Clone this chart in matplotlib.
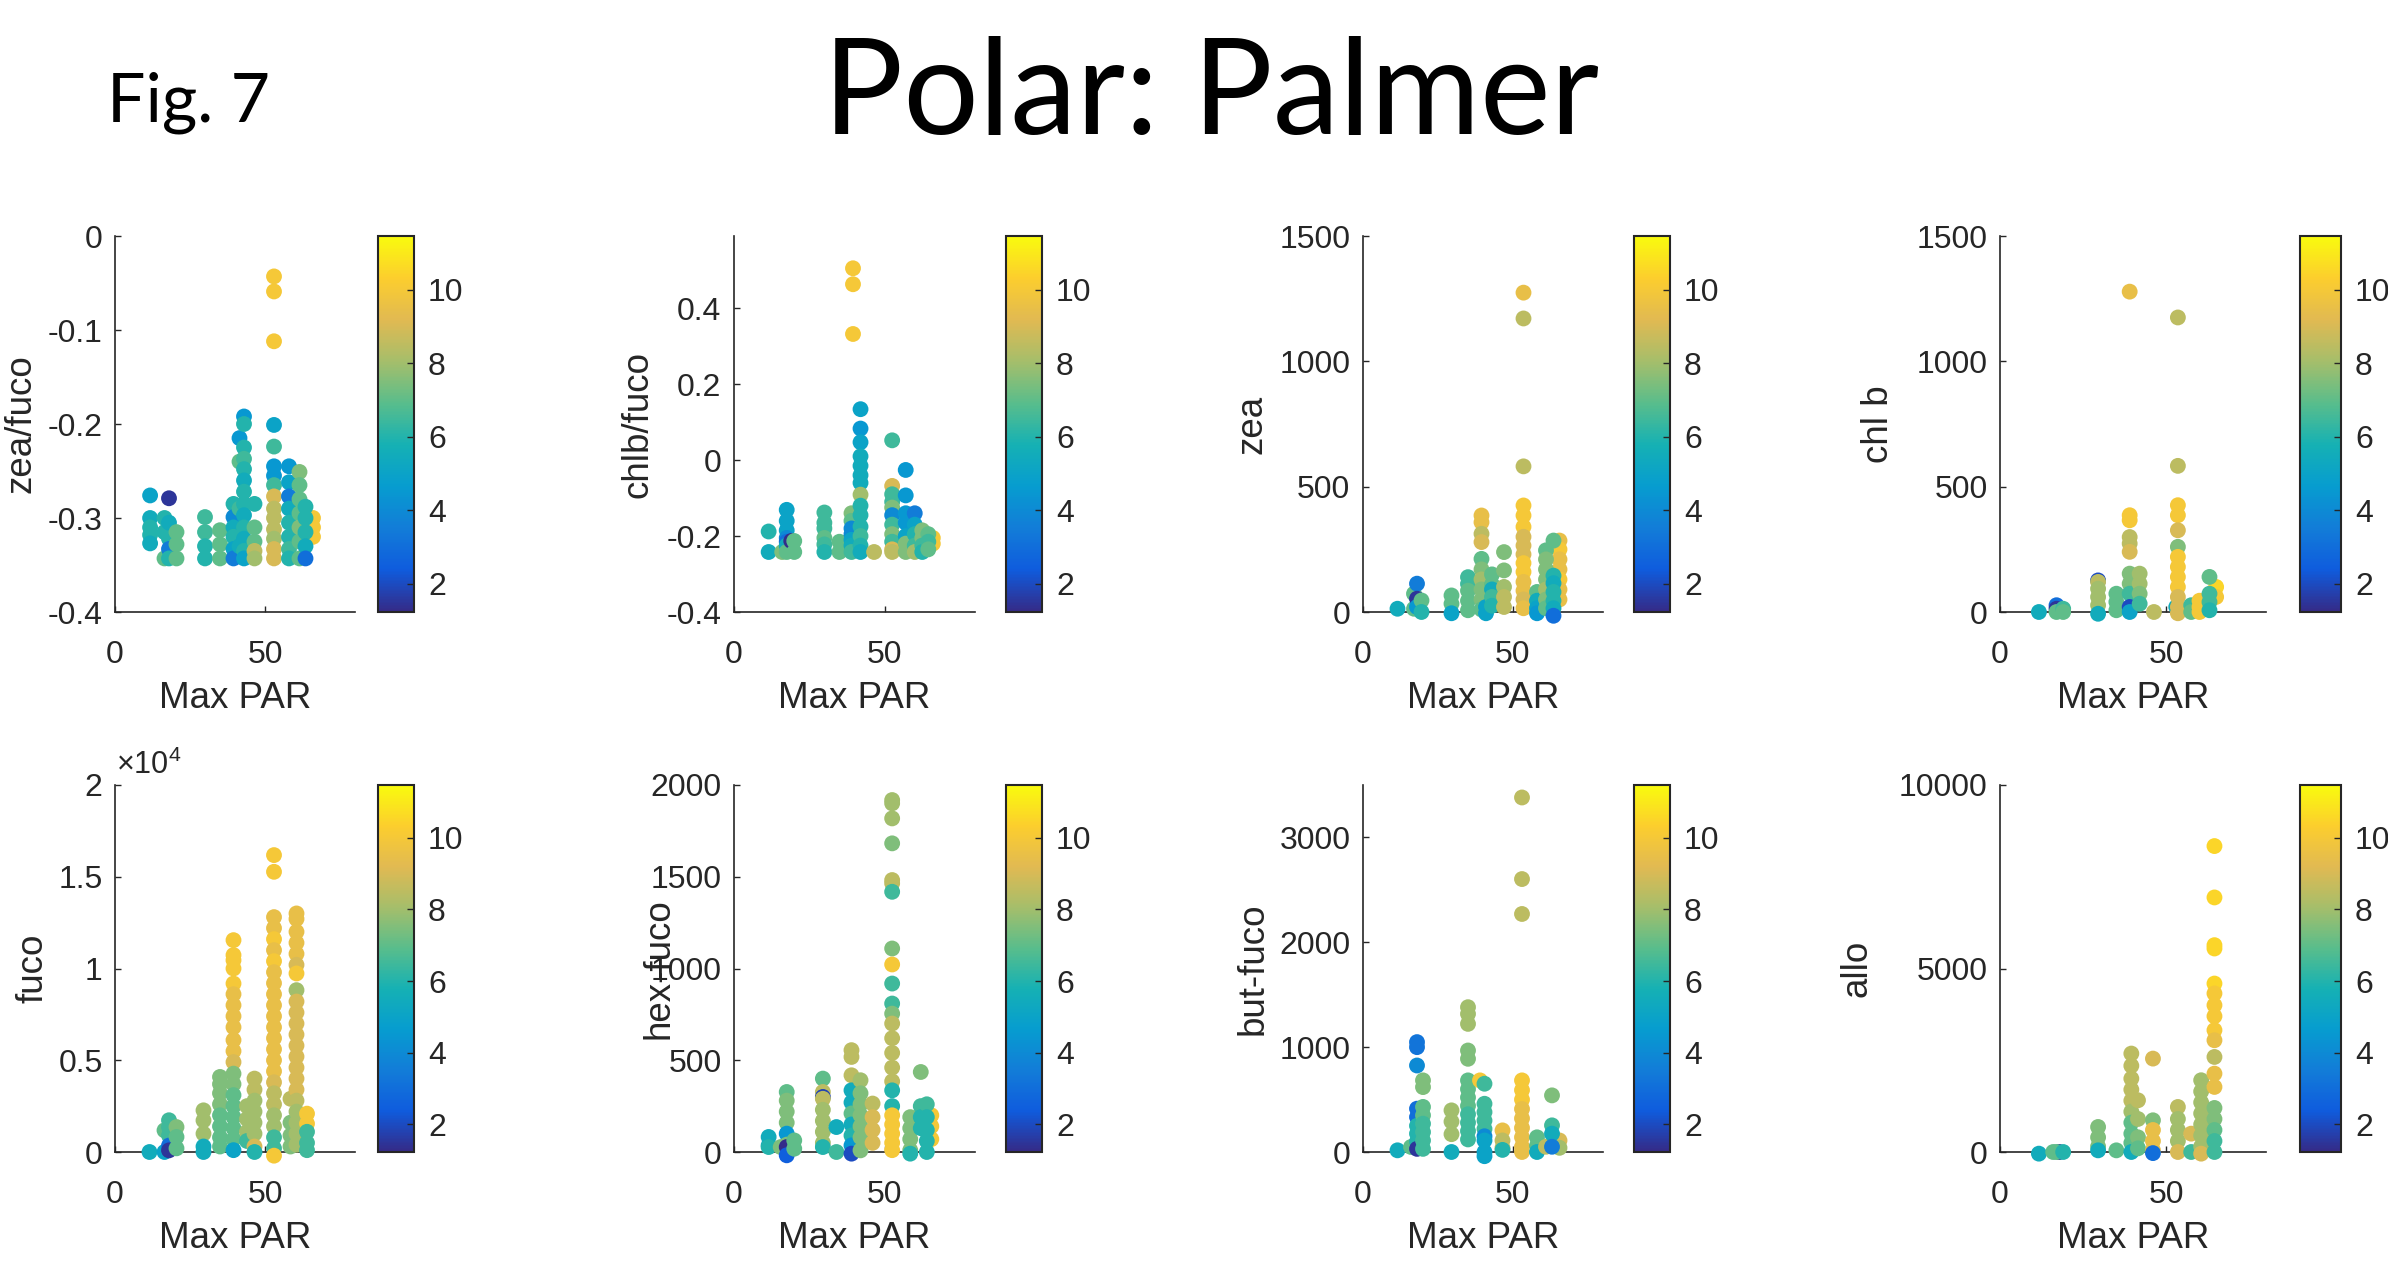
import matplotlib
matplotlib.use("Agg")
import matplotlib.pyplot as plt
from matplotlib.colors import LinearSegmentedColormap, Normalize
from matplotlib.ticker import FuncFormatter

# ---- data: (Max PAR, pigment value, colour value) ----
zea_fuco = [
    (11.7, -0.276, 5), (11.7, -0.300, 5.5), (11.7, -0.310, 6), (11.7, -0.318, 6), (11.7, -0.327, 5.5),
    (16.5, -0.300, 6), (16.5, -0.315, 6), (16.5, -0.343, 7),
    (18, -0.279, 1.5), (18, -0.305, 5.5), (18, -0.322, 6), (18, -0.333, 3.5), (18, -0.343, 6),
    (20.5, -0.315, 7), (20.5, -0.328, 7), (20.5, -0.343, 7),
    (30, -0.299, 6.5), (30, -0.315, 6.5), (30, -0.330, 6), (30, -0.343, 6),
    (35, -0.313, 7), (35, -0.328, 7), (35, -0.343, 7),
    (39.5, -0.285, 6), (39.5, -0.299, 4), (39.5, -0.310, 5.5), (39.5, -0.320, 6), (39.5, -0.333, 5), (39.5, -0.343, 3.5),
    (41.5, -0.215, 4.5), (41.5, -0.240, 7), (41.5, -0.290, 6.5), (41.5, -0.330, 5.5),
    (43, -0.192, 4.5), (43, -0.200, 6), (43, -0.225, 6), (43, -0.237, 6.5), (43, -0.248, 6), (43, -0.260, 5.5),
    (43, -0.272, 6), (43, -0.285, 6), (43, -0.297, 5.5), (43, -0.310, 6), (43, -0.322, 5.5), (43, -0.335, 6), (43, -0.343, 5),
    (46.5, -0.285, 6), (46.5, -0.310, 7), (46.5, -0.325, 7), (46.5, -0.335, 8.5), (46.5, -0.343, 8),
    (53, -0.043, 10), (53, -0.059, 10), (53, -0.112, 10), (53, -0.201, 5), (53, -0.224, 6.5), (53, -0.245, 4.5),
    (53, -0.255, 4.5), (53, -0.265, 6.5), (53, -0.277, 9), (53, -0.290, 8.5), (53, -0.300, 8.5), (53, -0.312, 8.5),
    (53, -0.322, 8), (53, -0.333, 9), (53, -0.343, 9),
    (58, -0.245, 4.5), (58, -0.262, 5), (58, -0.277, 3.5), (58, -0.290, 5.5), (58, -0.305, 6), (58, -0.320, 6),
    (58, -0.333, 6.5), (58, -0.343, 6),
    (66, -0.300, 10), (66, -0.310, 10), (66, -0.320, 10),
    (61.5, -0.251, 7.5), (61.5, -0.265, 7), (61.5, -0.280, 7), (61.5, -0.295, 7), (61.5, -0.310, 7.5), (61.5, -0.325, 7), (61.5, -0.343, 7),
    (63.5, -0.288, 6), (63.5, -0.300, 6), (63.5, -0.315, 6), (63.5, -0.330, 5.5), (63.5, -0.343, 3),
]

chlb_fuco = [
    (11.5, -0.188, 6), (11.5, -0.242, 5.5),
    (16, -0.242, 7.5),
    (17.5, -0.131, 5), (17.5, -0.160, 5), (17.5, -0.185, 5), (17.5, -0.205, 4), (17.5, -0.215, 3), (17.5, -0.225, 5.5), (17.5, -0.242, 7),
    (19, -0.213, 1.3),
    (20, -0.213, 7), (20, -0.242, 7),
    (30, -0.138, 6.5), (30, -0.165, 6.5), (30, -0.180, 6.5), (30, -0.205, 7), (30, -0.222, 6.5), (30, -0.242, 6),
    (35, -0.215, 7), (35, -0.242, 7),
    (39, -0.140, 7.5), (39, -0.160, 7), (39, -0.180, 4), (39, -0.195, 4), (39, -0.210, 5), (39, -0.225, 5.5), (39, -0.242, 6.5),
    (39.5, 0.505, 10), (39.5, 0.463, 10), (39.5, 0.332, 10),
    (42, 0.134, 5), (42, 0.083, 4.5), (42, 0.047, 5), (42, 0.010, 5.5), (42, -0.015, 5.5), (42, -0.040, 5.5),
    (42, -0.060, 5.5), (42, -0.091, 8), (42, -0.120, 6), (42, -0.145, 6), (42, -0.175, 6), (42, -0.200, 6.5),
    (42, -0.225, 6), (42, -0.242, 5.5),
    (46.5, -0.242, 8.5),
    (52.5, 0.052, 6.5), (52.5, -0.068, 9), (52.5, -0.090, 6.5), (52.5, -0.110, 6.5), (52.5, -0.125, 7.5),
    (52.5, -0.145, 4), (52.5, -0.170, 6.5), (52.5, -0.195, 7.5), (52.5, -0.215, 6.5), (52.5, -0.235, 9), (52.5, -0.242, 8.5),
    (57, -0.026, 4.5), (57, -0.093, 4.5), (57, -0.140, 4.5), (57, -0.165, 4.5), (57, -0.200, 5), (57, -0.220, 7.5), (57, -0.242, 7.5),
    (60, -0.140, 3.5), (60, -0.170, 5), (60, -0.195, 6), (60, -0.225, 6.5), (60, -0.242, 8),
    (66, -0.205, 10), (66, -0.220, 10),
    (62.5, -0.185, 7.5), (62.5, -0.205, 7.5), (62.5, -0.225, 6.5), (62.5, -0.242, 6),
    (64.5, -0.195, 7), (64.5, -0.215, 6.5), (64.5, -0.235, 7),
]

zea = [
    (11.5, 13, 5.5),
    (17, 73, 7), (17, 13, 7),
    (18, 113, 3.5), (18, 53, 1.5), (18, 20, 4.5),
    (19.5, 46, 7), (19.5, 0, 6),
    (29.5, 66, 7), (29.5, 33, 7), (29.5, -5, 5),
    (35, 139, 6.5), (35, 112, 6.5), (35, 85, 7), (35, 45, 7), (35, 7, 7),
    (39.5, 385, 9.5), (39.5, 358, 9.5), (39.5, 312, 8.5), (39.5, 279, 9), (39.5, 212, 7), (39.5, 170, 7.5),
    (39.5, 130, 8), (39.5, 90, 7.5), (39.5, 50, 7.5), (39.5, 10, 7),
    (41, -5, 5), (41, 20, 5),
    (43, 150, 7), (43, 110, 7), (43, 90, 5.5), (43, 60, 6.5), (43, 25, 6),
    (47, 239, 7.5), (47, 166, 7.5), (47, 100, 8), (47, 60, 8.5), (47, 20, 8.5),
    (53.5, 1274, 9.5), (53.5, 1171, 8.5), (53.5, 581, 8.5), (53.5, 425, 10), (53.5, 385, 10), (53.5, 340, 10),
    (53.5, 300, 9), (53.5, 265, 9), (53.5, 230, 9), (53.5, 195, 10), (53.5, 160, 10), (53.5, 120, 9.5),
    (53.5, 85, 9.5), (53.5, 50, 9), (53.5, 15, 9.5),
    (58, 80, 7), (58, 45, 5.5), (58, 15, 5), (58, -5, 4.5),
    (65.5, 285, 9.5), (65.5, 250, 10), (65.5, 210, 9.5), (65.5, 170, 9.5), (65.5, 130, 10), (65.5, 90, 9.5), (65.5, 50, 9.5),
    (61, 246, 7), (61, 210, 7.5), (61, 170, 7.5), (61, 130, 7.5), (61, 90, 8), (61, 50, 7.5), (61, 15, 7),
    (63.5, 285, 7), (63.5, 145, 6), (63.5, 115, 5.5), (63.5, 80, 6), (63.5, 45, 6), (63.5, 15, 5.5), (63.5, -15, 3),
]

chl_b = [
    (11.7, 0, 5.5),
    (17, 27, 3), (17, 13, 1.5), (17, 0, 7),
    (19, 13, 6.5), (19, 0, 7),
    (29.5, 126, 2), (29.5, 120, 8.5), (29.5, 93, 8), (29.5, 60, 8), (29.5, 27, 8), (29.5, -7, 5.5),
    (35, 73, 7), (35, 40, 7), (35, 7, 7),
    (39, 1278, 9.5), (39, 386, 10), (39, 366, 10), (39, 299, 8.5), (39, 273, 8.5), (39, 240, 9),
    (39, 153, 7.5), (39, 113, 7.5), (39, 73, 6.5), (39, 20, 2), (39, 0, 5),
    (42, 153, 8), (42, 113, 8), (42, 73, 7.5), (42, 33, 6.5),
    (46.3, 0, 8.5),
    (53, 20, 5.5),
    (53.5, 1175, 8.5), (53.5, 583, 8.5), (53.5, 426, 10), (53.5, 386, 10), (53.5, 326, 9), (53.5, 260, 7.5),
    (53.5, 220, 10), (53.5, 180, 10), (53.5, 140, 10), (53.5, 100, 10), (53.5, 60, 9), (53.5, 20, 9), (53.5, -5, 9),
    (57.5, 27, 6.5), (57.5, 0, 7),
    (60, 45, 10), (60, 20, 10), (60, 0, 10),
    (65, 100, 10.5), (65, 60, 10),
    (63, 140, 7), (63, 73, 6.5), (63, 40, 6.5), (63, 7, 6),
]

fuco = [
    (11.5, 0, 5.5),
    (16.5, 1180, 7), (16.5, 0, 5),
    (18, 1730, 6.5), (18, 1360, 6.5), (18, 900, 6.5), (18, 350, 3), (18, 90, 1.5),
    (20.5, 1360, 7.5), (20.5, 820, 7), (20.5, 200, 7),
    (29.5, 2270, 8), (29.5, 1720, 8), (29.5, 1000, 8), (29.5, 300, 5.5), (29.5, 0, 5.5),
    (35, 4090, 7.5), (35, 3700, 7.5), (35, 3200, 7.5), (35, 2600, 7.5), (35, 2000, 7), (35, 1400, 7), (35, 800, 7), (35, 300, 7),
    (39.5, 11545, 10), (39.5, 10730, 10), (39.5, 10450, 10), (39.5, 10000, 10), (39.5, 9180, 10), (39.5, 8600, 9.5),
    (39.5, 8000, 9.5), (39.5, 7400, 9.5), (39.5, 6800, 9.5), (39.5, 6100, 9.5), (39.5, 5500, 9.5), (39.5, 4900, 9),
    (39.5, 4270, 7.5), (39.5, 3700, 7.5), (39.5, 3100, 7), (39.5, 2500, 7), (39.5, 1900, 7), (39.5, 1300, 7),
    (39.5, 700, 7), (39.5, 100, 5),
    (44, 2500, 8), (44, 1800, 8), (44, 1100, 8), (44, 600, 6.5),
    (46.5, 4000, 8.5), (46.5, 3400, 8.5), (46.5, 2800, 8), (46.5, 2200, 8), (46.5, 1600, 8), (46.5, 1000, 8), (46.5, 300, 9), (46.5, 0, 6),
    (53, 16180, 10), (53, 15270, 10), (53, 12800, 9.5), (53, 12200, 9.5), (53, 11600, 10), (53, 11000, 9.5),
    (53, 10400, 10), (53, 9800, 9.5), (53, 9200, 9.5), (53, 8600, 9.5), (53, 8000, 9.5), (53, 7400, 9.5),
    (53, 6800, 9.5), (53, 6200, 9.5), (53, 5600, 9.5), (53, 5000, 9.5), (53, 4400, 9.5), (53, 3800, 9),
    (53, 3200, 8.5), (53, 2600, 8.5), (53, 2000, 8), (53, 1400, 8), (53, 800, 6.5), (53, 200, 6.5), (53, -200, 10),
    (58.5, 2900, 8.5), (58.5, 1600, 7.5), (58.5, 900, 7.5), (58.5, 300, 7.5),
    (60.5, 13000, 9.5), (60.5, 12700, 9.5), (60.5, 12000, 9.5), (60.5, 11400, 9.5), (60.5, 10800, 9.5), (60.5, 10200, 9),
    (60.5, 9730, 10), (60.5, 8820, 8), (60.5, 8200, 9), (60.5, 7600, 9), (60.5, 7000, 9), (60.5, 6400, 9),
    (60.5, 5800, 9), (60.5, 5200, 9), (60.5, 4600, 9), (60.5, 4000, 9), (60.5, 3400, 9), (60.5, 2800, 8.5),
    (60.5, 2200, 8), (60.5, 1600, 8), (60.5, 1000, 8), (60.5, 400, 8),
    (64, 2090, 10), (64, 1545, 10), (64, 1100, 6.5), (64, 500, 6.5), (64, 100, 6.5),
]

hex_fuco = [
    (11.5, 82, 5.5), (11.5, 36, 5.5), (11.5, 27, 6),
    (15.5, 27, 7.5),
    (17.5, 327, 7), (17.5, 280, 7.5), (17.5, 220, 7.5), (17.5, 160, 7.5), (17.5, 100, 4.5), (17.5, 40, 7.5),
    (17.5, 27, 1.3), (17.5, -18, 2.5),
    (20, 63, 7), (20, 18, 7),
    (29.5, 400, 7), (29.5, 327, 8.5), (29.5, 300, 1.8), (29.5, 290, 8.5), (29.5, 230, 8), (29.5, 170, 8),
    (29.5, 110, 8), (29.5, 50, 8), (29.5, 27, 6),
    (34, 136, 5.5), (34, 0, 6.5),
    (39, 555, 8.5), (39, 518, 8.5), (39, 418, 8.5), (39, 336, 5.5), (39, 270, 5.5), (39, 210, 7),
    (39, 150, 5.5), (39, 90, 6), (39, 36, 4.5), (39, -9, 2),
    (42, 391, 8), (42, 320, 7.5), (42, 260, 7.5), (42, 200, 7.5), (42, 140, 7.5), (42, 80, 7.5), (42, 9, 7.5),
    (46, 264, 8.5), (46, 190, 9), (46, 120, 9), (46, 50, 9),
    (52.5, 1918, 8), (52.5, 1900, 8), (52.5, 1818, 8), (52.5, 1682, 7.5), (52.5, 1482, 8.5), (52.5, 1464, 8.5),
    (52.5, 1418, 6.5), (52.5, 1109, 7.5), (52.5, 1022, 10), (52.5, 918, 6.5), (52.5, 809, 6.5), (52.5, 754, 7.5),
    (52.5, 700, 8.5), (52.5, 620, 8.5), (52.5, 540, 8.5), (52.5, 460, 8.5), (52.5, 385, 8.5), (52.5, 336, 6),
    (52.5, 250, 6), (52.5, 200, 10), (52.5, 150, 10), (52.5, 100, 10), (52.5, 50, 10), (52.5, 10, 10),
    (58.5, 190, 7.5), (58.5, 130, 7.5), (58.5, 70, 7.5), (58.5, 10, 7.5), (58.5, -9, 6),
    (65.5, 200, 10), (65.5, 140, 10), (65.5, 70, 10),
    (62, 436, 7.5), (62, 250, 6.5), (62, 190, 6), (62, 130, 6),
    (64, 260, 6.5), (64, 190, 6), (64, 120, 6), (64, 60, 6), (64, 0, 6),
]

but_fuco = [
    (11.5, 16, 5.5),
    (16, 48, 7),
    (18, 1048, 3.2), (18, 1000, 3.2), (18, 825, 4), (18, 413, 3), (18, 333, 3), (18, 250, 6), (18, 175, 6),
    (18, 100, 6), (18, 30, 1.5),
    (20, 683, 7.5), (20, 619, 7.5), (20, 430, 7), (20, 350, 7), (20, 270, 6.5), (20, 190, 6.5), (20, 110, 6.5), (20, 30, 6.5),
    (29.5, 397, 8), (29.5, 290, 8), (29.5, 170, 8), (29.5, 0, 5.5),
    (35, 1381, 8), (35, 1317, 8), (35, 1222, 8), (35, 968, 7.5), (35, 889, 7.5), (35, 683, 7), (35, 600, 7),
    (35, 520, 7), (35, 440, 7), (35, 360, 6.5), (35, 280, 6.5), (35, 200, 6.5), (35, 120, 6.5),
    (39, 683, 10),
    (40.5, 651, 6.5), (40.5, 460, 6.5), (40.5, 380, 6.5), (40.5, 300, 6.5), (40.5, 220, 6.5), (40.5, 150, 4),
    (40.5, 110, 5), (40.5, 0, 5), (40.5, -40, 5),
    (46.5, 206, 9.5), (46.5, 110, 8.5), (46.5, 40, 8.5), (46.5, 20, 6),
    (53, 3381, 8.5), (53, 2603, 8.5), (53, 2270, 8.5), (53, 683, 10), (53, 590, 10), (53, 500, 10), (53, 410, 9.5),
    (53, 320, 9.5), (53, 230, 9.5), (53, 140, 9.5), (53, 50, 9.5), (53, 0, 9.5),
    (58, 140, 7), (58, 60, 7), (58, 0, 5.5),
    (61, 50, 8.5),
    (65.5, 110, 9), (65.5, 40, 8),
    (63, 540, 7.5), (63, 254, 6.5), (63, 175, 5.5), (63, 50, 3.5),
]

allo = [
    (11.7, -45, 5.5),
    (16, 0, 7),
    (17.8, 0, 1.5), (17, 0, 7),
    (19, 0, 6),
    (29.5, 682, 7.5), (29.5, 400, 7.5), (29.5, 150, 7.5), (29.5, 45, 5.5),
    (35, 45, 7),
    (39.5, 2682, 8.5), (39.5, 2350, 8.5), (39.5, 2000, 8.5), (39.5, 1700, 8.5), (39.5, 1400, 8.5), (39.5, 1100, 8),
    (39.5, 800, 7), (39.5, 500, 7), (39.5, 250, 7), (39.5, 0, 5.5),
    (41.5, 1409, 8.5), (41.5, 900, 8), (41.5, 400, 7.5), (41.5, 100, 7),
    (46, 2545, 9), (46, 864, 7.5), (46, 600, 9.5), (46, 300, 9.5), (46, 50, 9.5), (46, -30, 3),
    (53.5, 1227, 8.5), (53.5, 900, 8), (53.5, 600, 8), (53.5, 300, 8), (53.5, 0, 9),
    (57.5, 500, 9), (57.5, 0, 6.5),
    (60.5, 1955, 8), (60.5, 1650, 8), (60.5, 1350, 8), (60.5, 1050, 8), (60.5, 750, 8), (60.5, 450, 8),
    (60.5, 150, 8), (60.5, -45, 9),
    (64.5, 8336, 10.5), (64.5, 6936, 10.5), (64.5, 5636, 10.5), (64.5, 5545, 10.5), (64.5, 4590, 10.5),
    (64.5, 4320, 10), (64.5, 4000, 10), (64.5, 3700, 10), (64.5, 3320, 10), (64.5, 3045, 9.5), (64.5, 2590, 8.5),
    (64.5, 2136, 9.5), (64.5, 1773, 9.5), (64.5, 1200, 7.5), (64.5, 900, 7.5), (64.5, 600, 7), (64.5, 300, 6.5), (64.5, 0, 6.5),
]

# label, points, y scale, ylim, yticks, ylabel x (axes fraction)
panels = [
    ("zea/fuco", zea_fuco, 1, (-0.4, 0), [-0.4, -0.3, -0.2, -0.1, 0], -0.32),
    ("chlb/fuco", chlb_fuco, 1, (-0.4, 0.59), [-0.4, -0.2, 0, 0.2, 0.4], -0.324),
    ("zea", zea, 1, (0, 1500), [0, 500, 1000, 1500], -0.388),
    ("chl b", chl_b, 1, (0, 1500), [0, 500, 1000, 1500], -0.39),
    ("fuco", fuco, 1e4, (0, 2), [0, 0.5, 1, 1.5, 2], -0.27),
    ("hex-fuco", hex_fuco, 1, (0, 2000), [0, 500, 1000, 1500, 2000], -0.24),
    ("but-fuco", but_fuco, 1, (0, 3500), [0, 1000, 2000, 3000], -0.383),
    ("allo", allo, 1, (0, 10000), [0, 5000, 10000], -0.47),
]

# parula-like colormap (MATLAB default)
parula = LinearSegmentedColormap.from_list("parula", [
    (0.2081, 0.1663, 0.5292), (0.0591, 0.3598, 0.8683), (0.0723, 0.4887, 0.8467),
    (0.0265, 0.6137, 0.8135), (0.0843, 0.6928, 0.7062), (0.3482, 0.7424, 0.5473),
    (0.6473, 0.7456, 0.4188), (0.8824, 0.7274, 0.3217), (0.9880, 0.8066, 0.1794),
    (0.9763, 0.9831, 0.0538)])
norm = Normalize(vmin=1.23, vmax=11.47)

plt.rcParams['font.family'] = ['Liberation Sans', 'DejaVu Sans']
plt.rcParams['axes.unicode_minus'] = False
plt.rcParams['mathtext.fontset'] = 'custom'
plt.rcParams['mathtext.rm'] = 'Liberation Sans'
plt.rcParams['mathtext.it'] = 'Liberation Sans'

W, H = 2388, 1275
fig = plt.figure(figsize=(W / 100, H / 100), dpi=100)

ax_left = [115, 734, 1363, 2000]
ax_width = [240, 241, 240, 266]
cb_left = [378, 1006, 1634, 2300]
cb_width = [36, 36, 36, 41]
row_top = [236, 785]
row_bot = [612, 1152]

dark = "#262626"
fmt = FuncFormatter(lambda v, p: "%g" % v)

for i, (label, pts, scale, ylim, yticks, lab_x) in enumerate(panels):
    r, col = divmod(i, 4)
    b = 1 - row_bot[r] / H
    h = (row_bot[r] - row_top[r]) / H
    ax = fig.add_axes([ax_left[col] / W, b, ax_width[col] / W, h])
    xs = [p[0] for p in pts]
    ys = [p[1] / scale for p in pts]
    cs = [p[2] for p in pts]
    sc = ax.scatter(xs, ys, c=cs, cmap=parula, norm=norm, s=130, linewidths=0,
                    clip_on=False, zorder=3)
    ax.set_xlim(0, 80)
    ax.set_ylim(*ylim)
    ax.set_xticks([0, 50])
    ax.set_yticks(yticks)
    ax.yaxis.set_major_formatter(fmt)
    for s in ["top", "right"]:
        ax.spines[s].set_visible(False)
    for s in ["left", "bottom"]:
        ax.spines[s].set_color(dark)
        ax.spines[s].set_linewidth(1.2)
    ax.tick_params(direction="in", length=4.5, width=1, color=dark,
                   labelcolor=dark, labelsize=23)
    ax.tick_params(axis="x", pad=20)
    ax.tick_params(axis="y", pad=9)
    ax.set_xlabel("Max PAR", fontsize=26.5, color=dark, labelpad=8)
    ax.set_ylabel(label, fontsize=26.5, color=dark)
    ax.yaxis.set_label_coords(lab_x, 0.5)
    if scale != 1:
        ax.annotate(r"$\times\mathregular{10^{4}}$", xy=(0, 1), xycoords="axes fraction",
                    xytext=(1, 8), textcoords="offset points", fontsize=22,
                    color=dark, va="baseline", ha="left")

    cax = fig.add_axes([cb_left[col] / W, b, cb_width[col] / W, h])
    cb = fig.colorbar(sc, cax=cax, ticks=[2, 4, 6, 8, 10])
    cb.outline.set_edgecolor(dark)
    cb.outline.set_linewidth(1.5)
    cax.tick_params(direction="in", length=5, width=1, color=dark,
                    labelcolor=dark, labelsize=23, pad=10)

fig.text(1211 / W, 1 - 134 / H, "Polar: Palmer", ha="center", va="baseline",
         fontsize=96, family="Lato")
fig.text(107 / W, 1 - 122 / H, "Fig. 7", ha="left", va="baseline",
         fontsize=49, family="Lato")

fig.savefig("out.png", dpi=100)
